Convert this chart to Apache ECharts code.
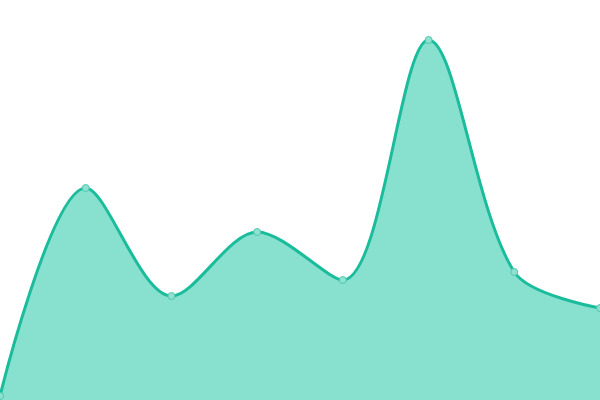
<!DOCTYPE html>
<html>
<head>
<meta charset="utf-8">
<script src="https://cdn.jsdelivr.net/npm/echarts@6/dist/echarts.min.js"></script>
<style>
  html, body { margin: 0; padding: 0; background: #fff; }
  #main { width: 600px; height: 400px; }
</style>
</head>
<body>
<div id="main"></div>
<script>
const categories = ['A', 'B', 'C', 'D', 'E', 'F', 'G', 'H'];
const values = [1, 53, 26, 42, 30, 90, 32, 23];

const chart = echarts.init(document.getElementById('main'));
chart.setOption({
  animation: false,
  grid: { left: 0, right: 0, top: 0, bottom: 0 },
  xAxis: {
    type: 'category',
    data: categories,
    boundaryGap: false,
    show: false
  },
  yAxis: {
    type: 'value',
    min: 0,
    max: 100,
    show: false
  },
  series: [{
    type: 'line',
    data: values,
    smooth: 0.32,
    symbol: 'circle',
    symbolSize: 7,
    lineStyle: { color: '#1abc9c', width: 3 },
    itemStyle: { color: '#8fe1d0', borderColor: '#4cc9b0', borderWidth: 1 },
    areaStyle: { color: '#88e0cf', opacity: 1 }
  }]
});
</script>
</body>
</html>
